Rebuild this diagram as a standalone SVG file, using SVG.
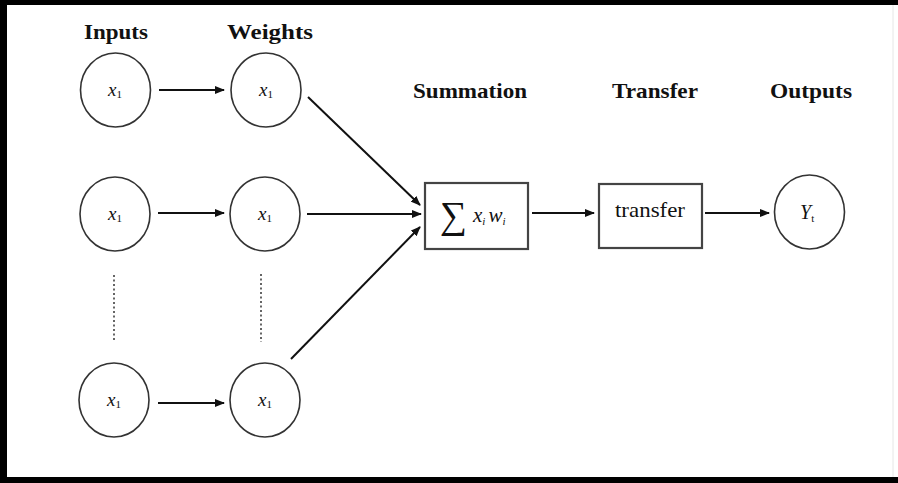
<svg xmlns="http://www.w3.org/2000/svg" width="898" height="483" viewBox="0 0 898 483">
<defs>
<style>
.hdr{font-family:"Liberation Serif","Times New Roman",serif;font-weight:bold;font-size:21px;fill:#111;text-anchor:middle}
.nd{fill:#fff;stroke:#333;stroke-width:1.6}
.bx{fill:#fff;stroke:#444;stroke-width:2.2}
.lbl{font-family:"Liberation Serif","Times New Roman",serif;font-size:19px;fill:#111}
.it{font-style:italic}
.sub{font-size:11px}
.sig{font-size:38px}
.cn{stroke:#111;stroke-width:2;fill:none;marker-end:url(#ah)}
.dot{stroke:#333;stroke-width:1.5;stroke-dasharray:2 2.5}
</style>
<marker id="ah" markerWidth="10" markerHeight="8" refX="9" refY="4" orient="auto" markerUnits="userSpaceOnUse">
<path d="M0,0 L10,4 L0,8 Z" fill="#111"/>
</marker>
</defs>
<rect x="0" y="0" width="898" height="483" fill="#fff"/>
<rect x="0" y="0" width="898" height="5" fill="#000"/>
<rect x="0" y="0" width="7" height="483" fill="#000"/>
<rect x="0" y="477" width="898" height="6" fill="#000"/>
<line x1="893" y1="5" x2="893" y2="477" stroke="#e6e6e6" stroke-width="1"/>

<g id="headers">
<text class="hdr" x="116" y="39" textLength="64" lengthAdjust="spacingAndGlyphs">Inputs</text>
<text class="hdr" x="270" y="39" textLength="86" lengthAdjust="spacingAndGlyphs">Weights</text>
<text class="hdr" x="470" y="98" textLength="114" lengthAdjust="spacingAndGlyphs">Summation</text>
<text class="hdr" x="655" y="98" textLength="86" lengthAdjust="spacingAndGlyphs">Transfer</text>
<text class="hdr" x="811" y="98" textLength="82" lengthAdjust="spacingAndGlyphs">Outputs</text>
</g>

<g id="in1"><ellipse class="nd" cx="115.5" cy="90" rx="35" ry="37"/><text class="lbl" x="108" y="96"><tspan class="it">x</tspan><tspan class="sub" dy="2">1</tspan></text></g>
<g id="in2"><ellipse class="nd" cx="115" cy="214" rx="35" ry="37"/><text class="lbl" x="108" y="220"><tspan class="it">x</tspan><tspan class="sub" dy="2">1</tspan></text></g>
<g id="in3"><ellipse class="nd" cx="114" cy="400" rx="35" ry="37"/><text class="lbl" x="107" y="406"><tspan class="it">x</tspan><tspan class="sub" dy="2">1</tspan></text></g>
<g id="w1"><ellipse class="nd" cx="266" cy="90" rx="35" ry="37"/><text class="lbl" x="259" y="96"><tspan class="it">x</tspan><tspan class="sub" dy="2">1</tspan></text></g>
<g id="w2"><ellipse class="nd" cx="265" cy="214" rx="35" ry="37"/><text class="lbl" x="258" y="220"><tspan class="it">x</tspan><tspan class="sub" dy="2">1</tspan></text></g>
<g id="w3"><ellipse class="nd" cx="265" cy="400" rx="35" ry="37"/><text class="lbl" x="258" y="406"><tspan class="it">x</tspan><tspan class="sub" dy="2">1</tspan></text></g>

<g id="sum"><rect class="bx" x="425" y="183" width="103" height="66"/>
<text class="lbl sig" x="440" y="228">∑</text>
<text class="lbl it" x="473" y="222" style="font-size:21px">x<tspan class="sub" dy="3">i</tspan><tspan dy="-3" dx="3">w</tspan><tspan class="sub" dy="3">i</tspan></text></g>

<g id="transfer"><rect class="bx" x="599" y="184" width="103" height="64"/>
<text class="lbl" x="650" y="217" text-anchor="middle" textLength="70" lengthAdjust="spacingAndGlyphs" style="font-size:21px">transfer</text></g>

<g id="out"><ellipse class="nd" cx="809.5" cy="212" rx="35" ry="37"/>
<text class="lbl it" x="800" y="219" style="font-size:20px">Y<tspan class="sub" dy="3" font-style="normal">t</tspan></text></g>

<g id="connectors">
<line class="cn" x1="159" y1="90" x2="224" y2="90"/>
<line class="cn" x1="158" y1="213" x2="224" y2="213"/>
<line class="cn" x1="158" y1="403" x2="224" y2="403"/>
<line class="cn" x1="308" y1="97" x2="420" y2="205"/>
<line class="cn" x1="307" y1="214" x2="421" y2="214"/>
<line class="cn" x1="291" y1="359" x2="420" y2="227"/>
<line class="cn" x1="532" y1="213" x2="594" y2="213"/>
<line class="cn" x1="705" y1="213" x2="769" y2="213"/>
<line class="dot" x1="114" y1="275" x2="114" y2="342"/>
<line class="dot" x1="261" y1="274" x2="261" y2="342"/>
</g>
</svg>
